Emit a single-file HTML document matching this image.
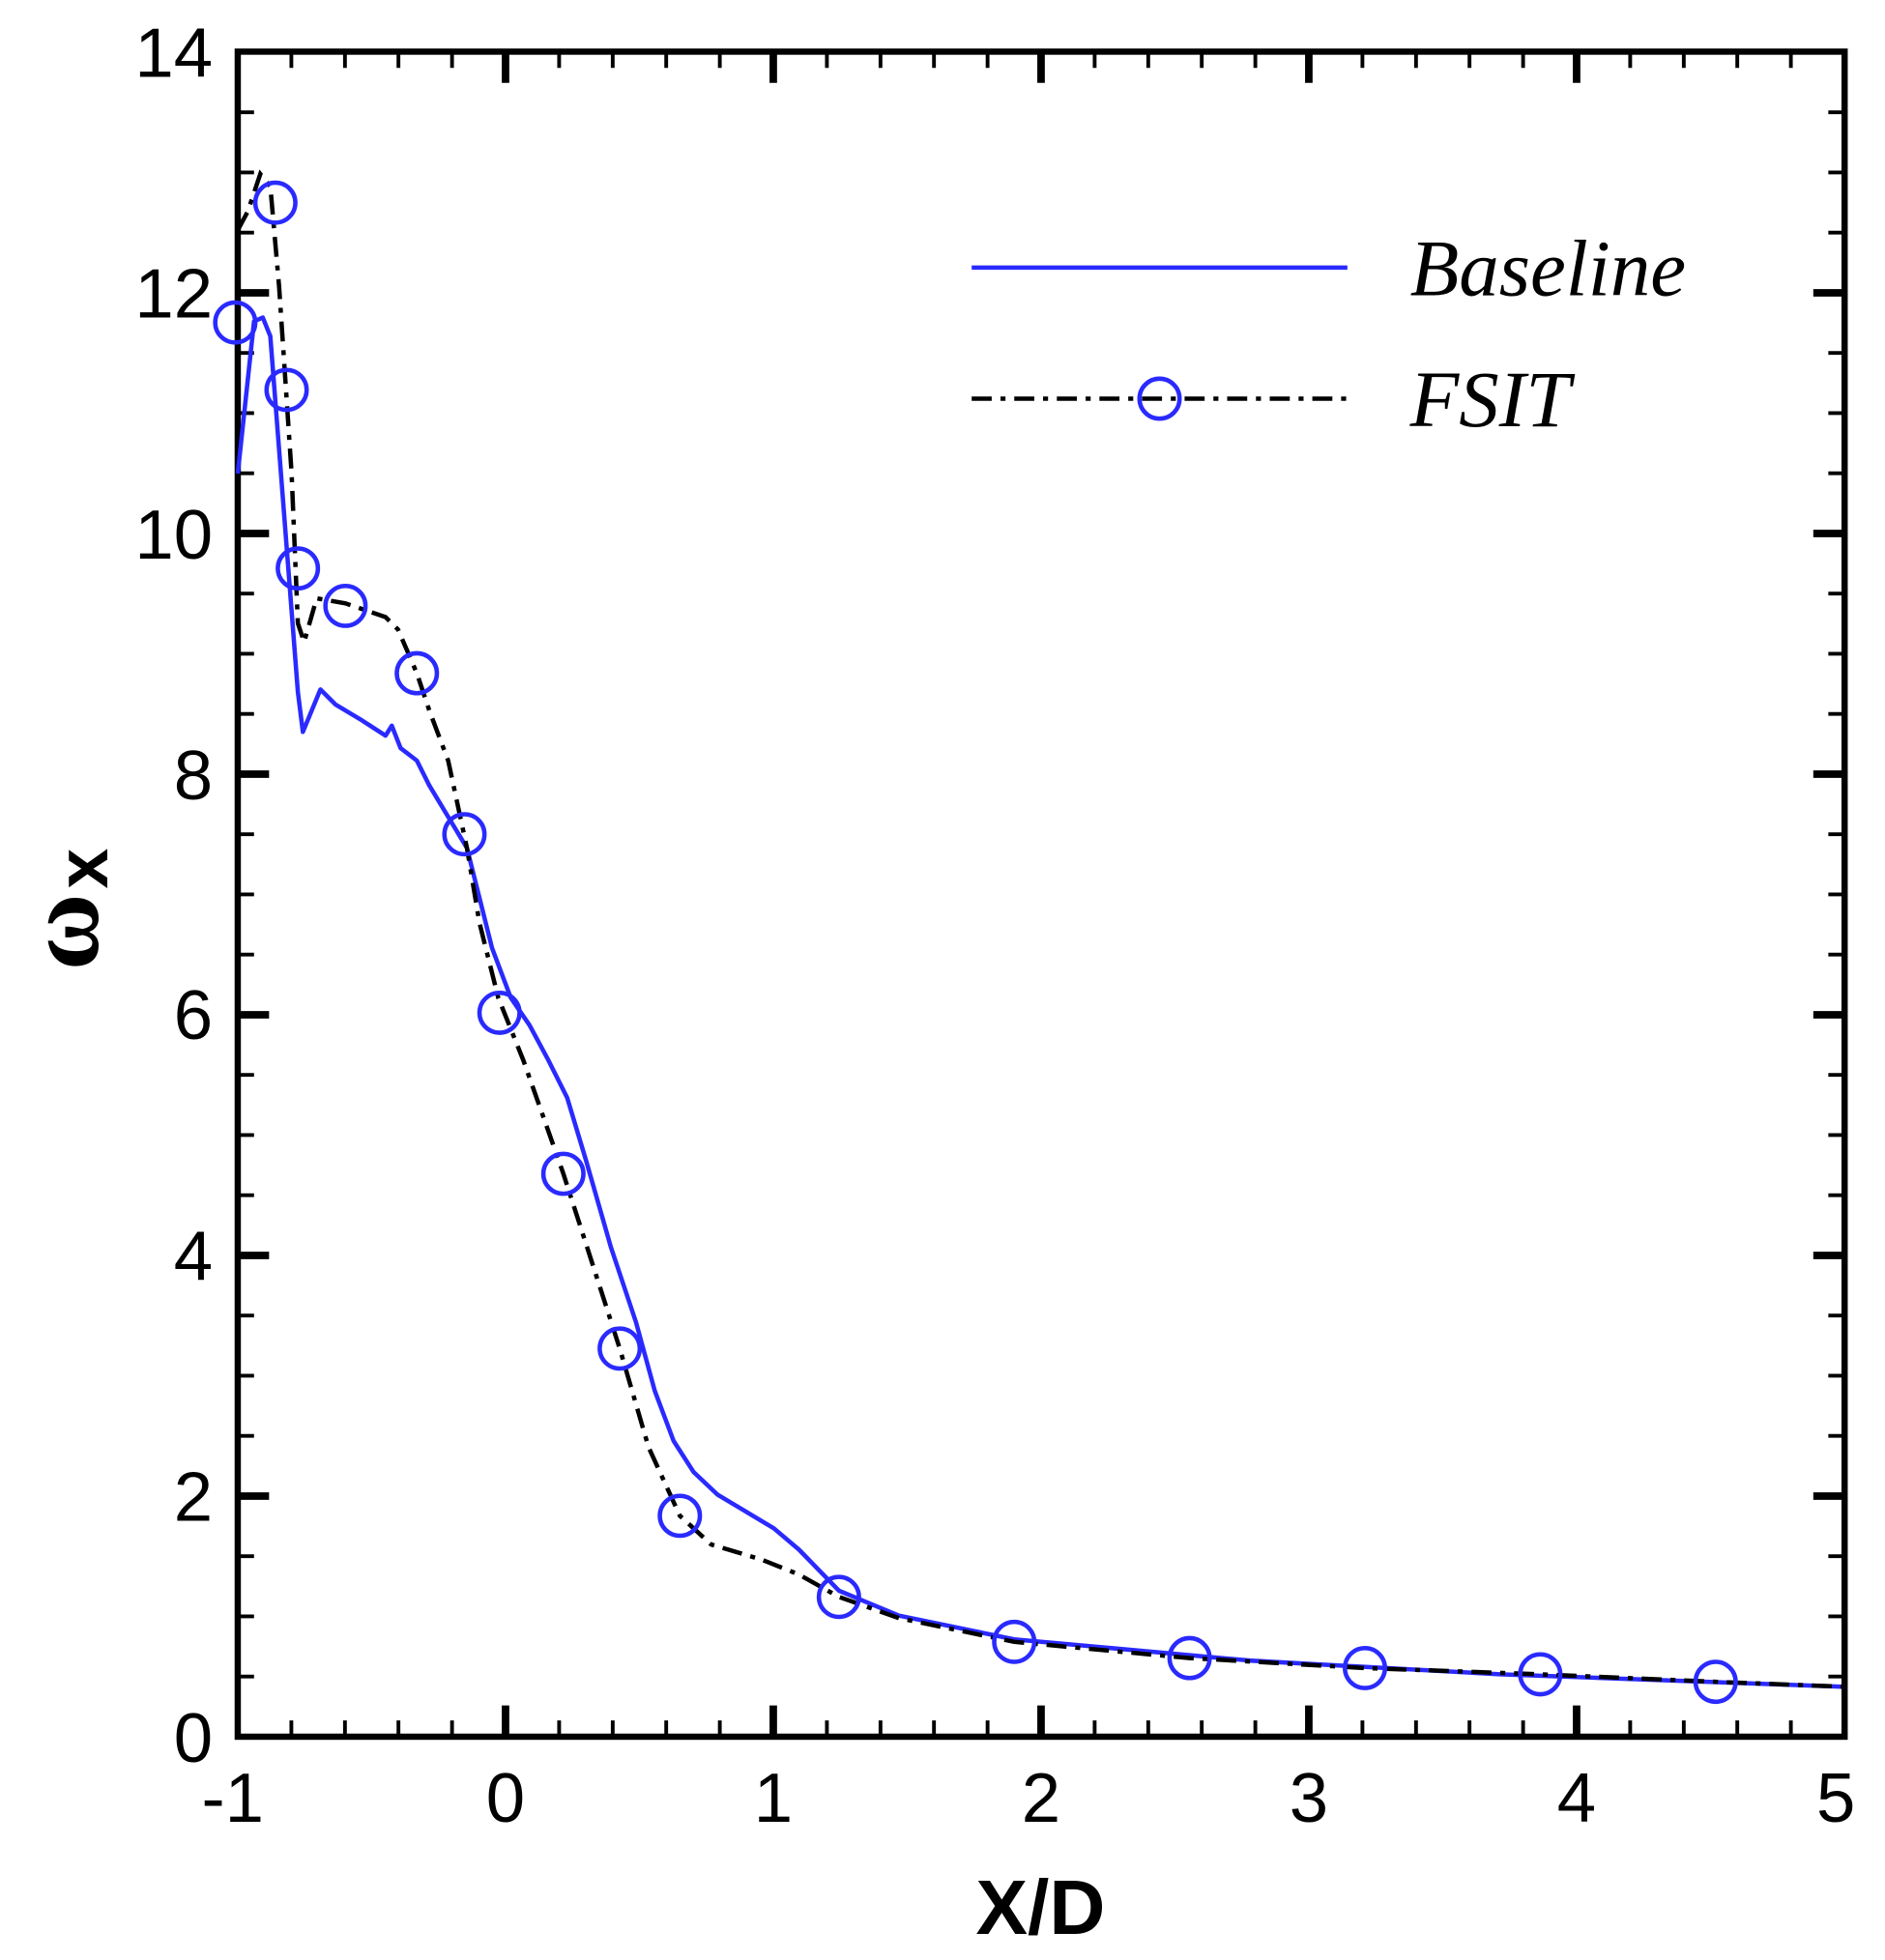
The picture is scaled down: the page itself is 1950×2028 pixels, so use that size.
<!DOCTYPE html>
<html><head><meta charset="utf-8"><style>html,body{margin:0;padding:0;background:#fff}svg{display:block}</style></head>
<body>
<svg width="1950" height="2028" viewBox="0 0 1950 2028" xmlns="http://www.w3.org/2000/svg">
<g transform="matrix(1.2956 0 0 1.2915 -2.8 -0.8)">
<g stroke="#000" fill="none">
<g stroke-width="3">
<path d="M234.8,1392v-13M277.6,1392v-13M320.3,1392v-13M363.1,1392v-13M448.6,1392v-13M491.4,1392v-13M534.1,1392v-13M576.9,1392v-13M662.4,1392v-13M705.2,1392v-13M747.9,1392v-13M790.7,1392v-13M876.2,1392v-13M919,1392v-13M961.7,1392v-13M1004.5,1392v-13M1090,1392v-13M1132.8,1392v-13M1175.5,1392v-13M1218.3,1392v-13M1303.8,1392v-13M1346.6,1392v-13M1389.3,1392v-13M1432.1,1392v-13"/>
<path d="M234.8,42v13M277.6,42v13M320.3,42v13M363.1,42v13M448.6,42v13M491.4,42v13M534.1,42v13M576.9,42v13M662.4,42v13M705.2,42v13M747.9,42v13M790.7,42v13M876.2,42v13M919,42v13M961.7,42v13M1004.5,42v13M1090,42v13M1132.8,42v13M1175.5,42v13M1218.3,42v13M1303.8,42v13M1346.6,42v13M1389.3,42v13M1432.1,42v13"/>
</g>
<g stroke-width="6">
<path d="M405.8,1392v-25M619.6,1392v-25M833.4,1392v-25M1047.2,1392v-25M1261,1392v-25"/>
<path d="M405.8,42v25M619.6,42v25M833.4,42v25M1047.2,42v25M1261,42v25"/>
<path d="M192,1199.2h25M192,1006.4h25M192,813.6h25M192,620.8h25M192,428h25M192,235.2h25"/>
<path d="M1475,1199.2h-25M1475,1006.4h-25M1475,813.6h-25M1475,620.8h-25M1475,428h-25M1475,235.2h-25"/>
</g>
<g stroke-width="3">
<path d="M192,1343.8h13M192,1295.6h13M192,1247.4h13M192,1151h13M192,1102.8h13M192,1054.6h13M192,958.2h13M192,910h13M192,861.8h13M192,765.4h13M192,717.2h13M192,669h13M192,572.6h13M192,524.4h13M192,476.2h13M192,379.8h13M192,331.6h13M192,283.4h13M192,187h13M192,138.8h13M192,90.6h13"/>
<path d="M1475,1343.8h-13M1475,1295.6h-13M1475,1247.4h-13M1475,1151h-13M1475,1102.8h-13M1475,1054.6h-13M1475,958.2h-13M1475,910h-13M1475,861.8h-13M1475,765.4h-13M1475,717.2h-13M1475,669h-13M1475,572.6h-13M1475,524.4h-13M1475,476.2h-13M1475,379.8h-13M1475,331.6h-13M1475,283.4h-13M1475,187h-13M1475,138.8h-13M1475,90.6h-13"/>
</g>
<rect x="192" y="42" width="1283" height="1350" stroke-width="5"/>
</g>

<polyline fill="none" stroke="#2a2aff" stroke-width="3.5" stroke-linejoin="round" points="192,380 205,258 212,255 218,270 240,555 244,587 258,553 270,565 290,577 310,590 315,582 322,600 335,610 345,630 360,655 375,680 385,720 395,760 410,800 425,822 440,850 455,880 470,930 490,1000 510,1060 525,1115 540,1155 556,1180 575,1198 600,1213 620,1225 640,1242 672,1275 720,1295 812,1314 1000,1331 1200,1342 1475,1352"/>
<polyline fill="none" stroke="#000" stroke-width="3.5" stroke-dasharray="16 7 4 7" points="192,185 200,170 210,140 218,150 225,230 235,380 240,500 245,515 255,480 278,484 310,495 320,505 335,540 345,570 360,610 375,680 385,740 400,800 420,850 452,941 497,1081 520,1160 545,1215 570,1238 610,1250 640,1262 672,1280 720,1297 812,1316 952,1329 1092,1337 1232,1342 1372,1348 1475,1352"/>
<g fill="none" stroke="#2a2aff" stroke-width="3.5">
<ellipse cx="190" cy="259" rx="16" ry="16"/><ellipse cx="222" cy="163" rx="16" ry="16"/><ellipse cx="231" cy="313" rx="16" ry="16"/><ellipse cx="240" cy="456" rx="16" ry="16"/><ellipse cx="278" cy="486" rx="16" ry="16"/><ellipse cx="335" cy="540" rx="16" ry="16"/><ellipse cx="373" cy="669" rx="16" ry="16"/><ellipse cx="401" cy="812" rx="16" ry="16"/><ellipse cx="452" cy="941" rx="16" ry="16"/><ellipse cx="497" cy="1081" rx="16" ry="16"/><ellipse cx="545" cy="1215" rx="16" ry="16"/><ellipse cx="672" cy="1280" rx="16" ry="16"/><ellipse cx="812" cy="1316" rx="16" ry="16"/><ellipse cx="952" cy="1329" rx="16" ry="16"/><ellipse cx="1092" cy="1337" rx="16" ry="16"/><ellipse cx="1232" cy="1342" rx="16" ry="16"/><ellipse cx="1372" cy="1348" rx="16" ry="16"/>
</g>

<line x1="778" y1="215" x2="1078" y2="215" stroke="#2a2aff" stroke-width="3.5"/>
<line x1="778" y1="320" x2="1078" y2="320" stroke="#000" stroke-width="3.5" stroke-dasharray="16 7 4 7"/>
<ellipse cx="928" cy="320" rx="16" ry="16" fill="none" stroke="#2a2aff" stroke-width="3.5"/>
<g font-family="Liberation Serif, serif" font-style="italic" font-size="64" fill="#000">
<text x="1128" y="237">Baseline</text>
<text x="1128" y="342">FSIT</text>
</g>

<g font-family="Liberation Sans, sans-serif" font-size="56" fill="#000" text-anchor="end">
<text x="172" y="1412">0</text><text x="172" y="1219">2</text><text x="172" y="1026">4</text><text x="172" y="833">6</text><text x="172" y="641">8</text><text x="172" y="448">10</text><text x="172" y="255">12</text><text x="172" y="62">14</text>
</g>
<g font-family="Liberation Sans, sans-serif" font-size="56" fill="#000" text-anchor="middle">
<text x="188" y="1460">-1</text><text x="405.8" y="1460">0</text><text x="619.6" y="1460">1</text><text x="833.4" y="1460">2</text><text x="1047.2" y="1460">3</text><text x="1261" y="1460">4</text><text x="1468" y="1460">5</text>
</g>
<text x="833" y="1550" font-family="Liberation Sans, sans-serif" font-weight="bold" font-size="62" text-anchor="middle">X/D</text>
<text transform="translate(80,778) rotate(-90)" font-family="Liberation Serif, serif" font-weight="bold" font-size="84">ω<tspan font-family="Liberation Sans, sans-serif" font-size="58" dy="8" dx="4">x</tspan></text>
</g>
</svg>
</body></html>
